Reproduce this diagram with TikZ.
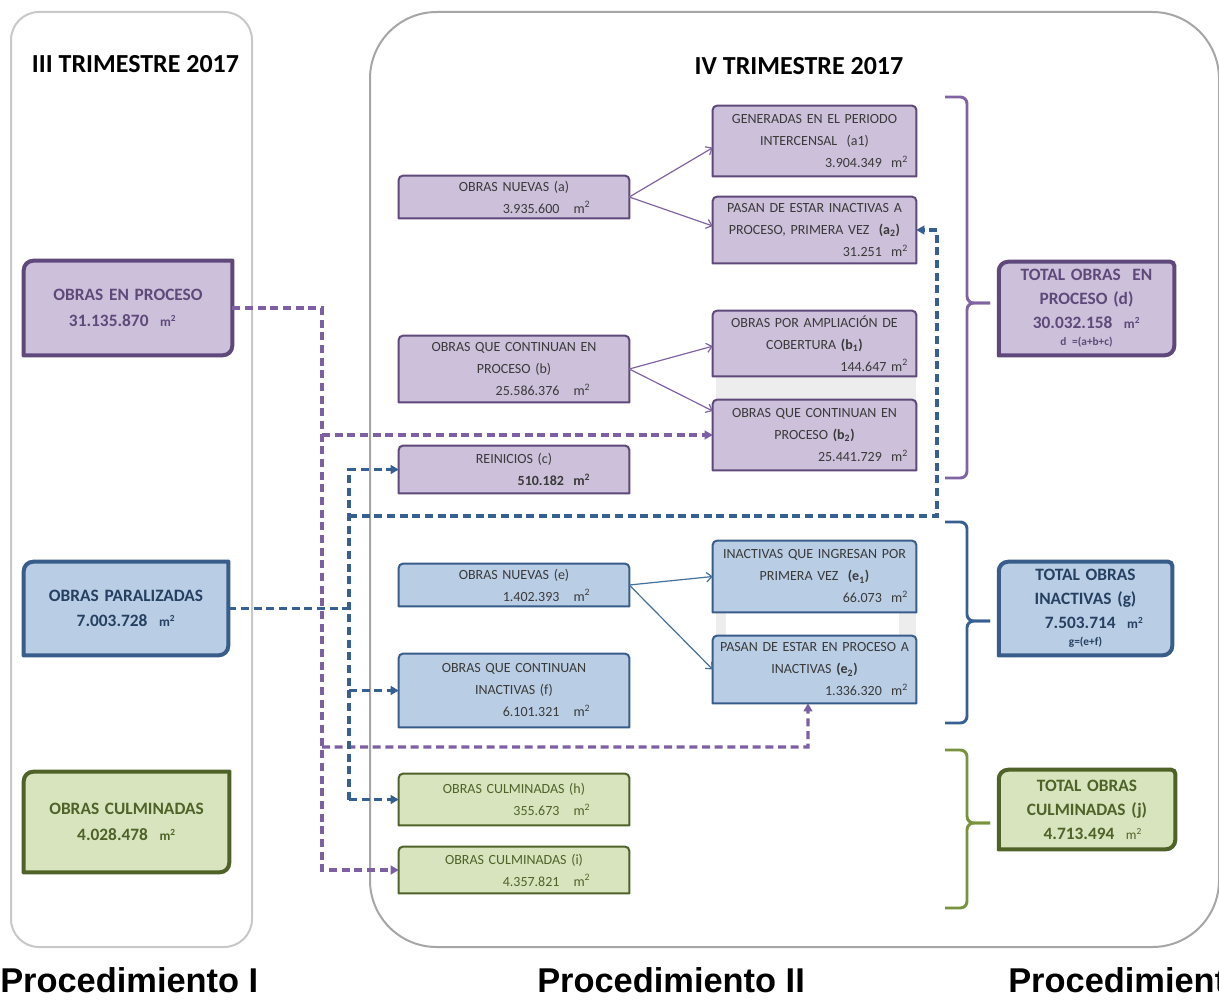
\documentclass[tikz,border=0pt]{standalone}
\usepackage{fontspec}
\setmainfont{Carlito}
\newfontfamily\procfont{Liberation Sans}
\usetikzlibrary{arrows.meta}
\pgfdeclarelayer{back}
\pgfdeclarelayer{background}
\pgfsetlayers{back,background,main}
\definecolor{pfill}{HTML}{CCC0DA}
\definecolor{pdraw}{HTML}{5F497A}
\definecolor{pline}{HTML}{8064A2}
\definecolor{pdashc}{HTML}{7D5FA3}
\definecolor{bfill}{HTML}{B9CDE5}
\definecolor{bdraw}{HTML}{385D8A}
\definecolor{bline}{HTML}{376092}
\definecolor{bthin}{HTML}{41719C}
\definecolor{gfill}{HTML}{D7E4BD}
\definecolor{gdraw}{HTML}{4F6228}
\definecolor{gline}{HTML}{77933C}
\definecolor{dtext}{HTML}{3A3A3A}
\definecolor{ptext}{HTML}{5F497A}
\definecolor{btext}{HTML}{254061}
\definecolor{gtext}{HTML}{4F6228}
\definecolor{panelA}{HTML}{C8C8C8}
\definecolor{panelB}{HTML}{A6A6A6}
\definecolor{band}{HTML}{EDEDED}
\newcommand\msq{m\textsuperscript{2}}
\newcommand\rnum[2]{\mbox{}\hskip 0pt plus 1filll #1\hspace*{#2}}
% box node: name, style, x1, y1, x2, y2, text
\newcommand\bx[7]{%
  \pgfmathsetmacro\bxw{(#5-#3)*0.75-6}%
  \pgfmathsetmacro\bxh{(#6-#4)*0.75}%
  \node[#2, text width=\bxw pt, minimum height=\bxh pt, inner xsep=3pt, inner ysep=0pt] (#1) at ({(#3+#5)/2},{(#4+#6)/2}) {#7};}
% outline: name, style, rNW, rNE, rSE, rSW
\newcommand\outl[6]{%
  \begin{pgfonlayer}{background}
  \path[#2] ([xshift=#3]#1.north west) -- ([xshift=-#4]#1.north east)
     arc[start angle=90,end angle=0,radius=#4] -- ([yshift=#5]#1.south east)
     arc[start angle=0,end angle=-90,radius=#5] -- ([xshift=#6]#1.south west)
     arc[start angle=270,end angle=180,radius=#6] -- ([yshift=-#3]#1.north west)
     arc[start angle=180,end angle=90,radius=#3] -- cycle;
  \end{pgfonlayer}}
\tikzset{
  smalltxt/.style={align=center, font=\fontsize{10.5}{16.5}\selectfont, text=dtext},
  bigtxt/.style={align=center, font=\bfseries\fontsize{13}{19}\selectfont},
  tottxt/.style={align=center, font=\bfseries\fontsize{13}{18}\selectfont},
  pbox/.style={fill=pfill, draw=pdraw, line width=1.5pt},
  bbox/.style={fill=bfill, draw=bdraw, line width=1.5pt},
  gbox/.style={fill=gfill, draw=gdraw, line width=1.5pt},
  heavy/.style={line width=3pt},
  pdash/.style={draw=pdashc, line width=2.5pt, dash pattern=on 6pt off 3.5pt},
  bdash/.style={draw=bline, line width=2.4pt, dash pattern=on 6pt off 3.5pt},
  dtip/.style={-{Triangle[length=6pt,width=6.5pt]}},
  thinp/.style={draw=pline, line width=0.9pt, -{Straight Barb[length=4pt,width=7pt]}},
  thinb/.style={draw=bthin, line width=0.9pt, -{Straight Barb[length=4pt,width=7pt]}},
  brk/.style={line width=2.2pt, rounded corners=5pt},
  ttl/.style={font=\bfseries\fontsize{19.5}{22}\selectfont, inner sep=0pt},
  procs/.style={font=\procfont\bfseries\fontsize{25.8}{30}\selectfont, inner sep=0pt, anchor=base west}
}
\begin{document}
\begin{tikzpicture}[x=0.75pt,y=-0.75pt]
\useasboundingbox (0,0) rectangle (1219,999);
\begin{pgfonlayer}{back}
\fill[white] (0,0) rectangle (1219,999);
\draw[panelA, line width=1.5pt, rounded corners=21pt] (11,12) rectangle (252,947);
\draw[panelB, line width=1.5pt, rounded corners=50pt] (370,12) rectangle (1219,947);
\fill[band] (716,376) rectangle (916,400);
\fill[band] (716,612) rectangle (726,636);
\fill[band] (899,612) rectangle (916,636);
\end{pgfonlayer}

% titles
\node[ttl] (t3) at (135.5,64) {III TRIMESTRE 2017};
\node[ttl] (t4) at (799,66) {IV TRIMESTRE 2017};
\node[procs] (p1) at (0,992) {Procedimiento I};
\node[procs] (p2) at (537,992) {Procedimiento II};
\node[procs] (p3) at (1008,992) {Procedimiento III};

% left column
\bx{ep}{bigtxt,text=ptext}{24}{261}{232}{355}{OBRAS EN PROCESO\hspace*{8pt}\\31.135.870\ \ {\fontsize{10}{10}\selectfont\msq}\hspace*{8pt}}
\outl{ep}{pbox,heavy}{7pt}{0.01pt}{7pt}{0.01pt}
\bx{par}{bigtxt,text=btext}{24}{562}{228}{655}{OBRAS PARALIZADAS\\7.003.728\ \ {\fontsize{10}{10}\selectfont\msq}}
\outl{par}{bbox,heavy}{7pt}{0.01pt}{7pt}{0.01pt}
\bx{cul}{bigtxt,text=gtext}{24}{772}{229}{872}{OBRAS CULMINADAS\\4.028.478\ \ {\fontsize{10}{10}\selectfont\msq}}
\outl{cul}{gbox,heavy}{7pt}{0.01pt}{7pt}{0.01pt}

% middle-left column
\bx{a}{smalltxt}{399}{176}{629}{218}{OBRAS NUEVAS (a)\hspace*{12pt}\\\rnum{3.935.600\ \ \ \msq}{26pt}}
\outl{a}{pbox}{3pt}{3pt}{0.01pt}{0.01pt}
\bx{b}{smalltxt}{399}{336}{629}{402}{OBRAS QUE CONTINUAN EN\\PROCESO (b)\\\rnum{25.586.376\ \ \ \msq}{26pt}}
\outl{b}{pbox}{3pt}{3pt}{0.01pt}{0.01pt}
\bx{c}{smalltxt}{399}{446}{629}{493}{REINICIOS (c)\\\rnum{\textbf{510.182\ \ \msq}}{26pt}}
\outl{c}{pbox}{3pt}{3pt}{0.01pt}{0.01pt}
\bx{e}{smalltxt}{399}{564}{629}{606}{OBRAS NUEVAS (e)\hspace*{12pt}\\\rnum{1.402.393\ \ \ \msq}{26pt}}
\outl{e}{bbox}{3pt}{3pt}{0.01pt}{0.01pt}
\bx{f}{smalltxt}{399}{654}{629}{727}{OBRAS QUE CONTINUAN\\INACTIVAS (f)\\\rnum{6.101.321\ \ \ \msq}{26pt}}
\outl{f}{bbox}{3pt}{3pt}{0.01pt}{0.01pt}
\bx{h}{smalltxt,text=gtext}{399}{774}{629}{825}{OBRAS CULMINADAS (h)\hspace*{6pt}\\\rnum{355.673\ \ \ \msq}{26pt}}
\outl{h}{gbox}{3pt}{3pt}{0.01pt}{0.01pt}
\bx{i}{smalltxt,text=gtext}{399}{847}{629}{893}{OBRAS CULMINADAS (i)\hspace*{6pt}\\\rnum{4.357.821\ \ \ \msq}{26pt}}
\outl{i}{gbox}{3pt}{3pt}{0.01pt}{0.01pt}

% middle-right column
\bx{a1}{smalltxt}{713}{106}{916}{176}{GENERADAS EN EL PERIODO\\INTERCENSAL\ \ (a1)\\\rnum{3.904.349\ \ \msq}{3pt}}
\outl{a1}{pbox}{3pt}{3pt}{0.01pt}{0.01pt}
\bx{a2}{smalltxt}{713}{197}{916}{263}{PASAN DE ESTAR INACTIVAS A\\PROCESO, PRIMERA VEZ\ \ \textbf{(a\textsubscript{2})}\\\rnum{31.251\ \ \msq}{3pt}}
\outl{a2}{pbox}{3pt}{3pt}{0.01pt}{0.01pt}
\bx{b1}{smalltxt}{713}{311}{916}{376}{OBRAS POR AMPLIACIÓN DE\\COBERTURA \textbf{(b\textsubscript{1})}\\\rnum{144.647 \msq}{3pt}}
\outl{b1}{pbox}{3pt}{3pt}{0.01pt}{0.01pt}
\bx{b2}{smalltxt}{713}{400}{916}{470}{OBRAS QUE CONTINUAN EN\\PROCESO \textbf{(b\textsubscript{2})}\\\rnum{25.441.729\ \ \msq}{3pt}}
\outl{b2}{pbox}{3pt}{3pt}{0.01pt}{0.01pt}
\bx{e1}{smalltxt}{713}{541}{916}{612}{INACTIVAS QUE INGRESAN POR\\PRIMERA VEZ\ \ \textbf{(e\textsubscript{1})}\\\rnum{66.073\ \ \msq}{3pt}}
\outl{e1}{bbox}{3pt}{3pt}{0.01pt}{0.01pt}
\bx{e2}{smalltxt}{713}{636}{916}{703}{PASAN DE ESTAR EN PROCESO A\\INACTIVAS \textbf{(e\textsubscript{2})}\\\rnum{1.336.320\ \ \msq}{3pt}}
\outl{e2}{bbox}{3pt}{3pt}{0.01pt}{0.01pt}

% totals
\bx{d}{tottxt,text=ptext}{999}{262}{1174}{355}{TOTAL OBRAS\ \ EN\\PROCESO (d)\\30.032.158\ \ {\fontsize{10}{10}\selectfont\msq}\\[-5pt]{\fontsize{8.5}{9}\selectfont d =(a+b+c)}}
\outl{d}{pbox,heavy}{7pt}{3pt}{7pt}{0.01pt}
\bx{g}{tottxt,text=btext}{999}{562}{1172}{655}{TOTAL OBRAS\\INACTIVAS (g)\\\ \ \ 7.503.714\ \ {\fontsize{10}{10}\selectfont\msq}\\[-5pt]{\fontsize{8.5}{9}\selectfont g=(e+f)}}
\outl{g}{bbox,heavy}{7pt}{3pt}{7pt}{0.01pt}
\bx{j}{tottxt,text=gtext}{999}{770}{1175}{849}{TOTAL OBRAS\\CULMINADAS (j)\\\ \ 4.713.494\ \ {\mdseries\fontsize{10}{10}\selectfont\msq}}
\outl{j}{gbox,heavy}{7pt}{3pt}{7pt}{0.01pt}

% braces
\draw[brk,pline] (945,97) -- (967,97) -- (967,303) -- (990,303);
\draw[brk,pline] (945,478) -- (967,478) -- (967,303) -- (990,303);
\draw[brk,bline] (945,522) -- (967,522) -- (967,621) -- (990,621);
\draw[brk,bline] (945,723) -- (967,723) -- (967,621) -- (990,621);
\draw[brk,gline] (945,750) -- (967,750) -- (967,823) -- (990,823);
\draw[brk,gline] (945,908) -- (967,908) -- (967,823) -- (990,823);

% thin arrows
\draw[thinp] (a.east) -- ([yshift=-5pt]a1.west);
\draw[thinp] (a.east) -- ([yshift=3pt]a2.west);
\draw[thinp] (b.east) -- ([yshift=-2pt]b1.west);
\draw[thinp] (b.east) -- ([yshift=18pt]b2.west);
\draw[thinb] (e.east) -- (e1.west);
\draw[thinb] (e.east) -- (e2.west);

% purple dashed connectors
\coordinate (pk) at (322,308);
\coordinate (pb) at (322,435);
\coordinate (pe) at (322,747);
\coordinate (pz) at (322,870);
\coordinate (pe2) at (808,747);
\draw[pdash,dtip] (ep.east) -- (pk) -- (pz) -- (i.west);
\draw[pdash,dtip] (pb) -- (b2.west);
\draw[pdash,dtip] (pe) -- (pe2) -- ([xshift=-4.9pt]e2.south);

% blue dashed connectors
\coordinate (bj) at (349,608.5);
\coordinate (bc) at (349,469.5);
\coordinate (bf) at (349,690.5);
\coordinate (bh) at (349,799.5);
\coordinate (bk) at (349,516);
\coordinate (bk2) at (937,516);
\coordinate (bk3) at (937,230);
\draw[bdash] (par.east) -- (bj);
\draw[bdash,dtip] (bh) -- (bc) -- (c.west);
\draw[bdash,dtip] (bh) -- (h.west);
\draw[bdash,dtip] (bf) -- (f.west);
\draw[bdash,dtip] (bk) -- (bk2) -- (bk3) -- (a2.east);
\end{tikzpicture}
\end{document}
